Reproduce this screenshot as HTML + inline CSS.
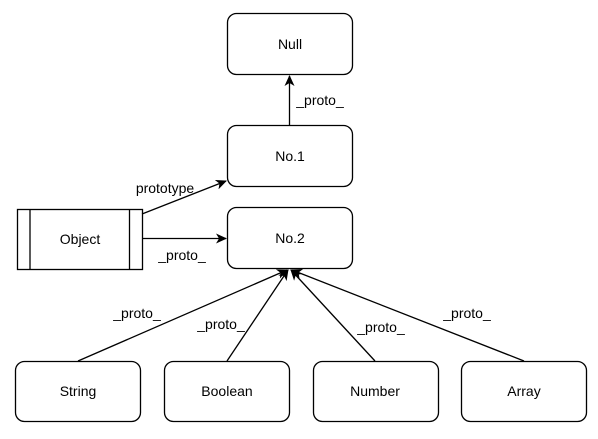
<!DOCTYPE html>
<html><head><style>
html,body{margin:0;padding:0;background:#fff;}
svg text{font-family:"Liberation Sans",Arial,sans-serif;font-size:14px;fill:#000;}
</style></head><body>
<svg width="598" height="434" viewBox="0 0 598 434" xmlns="http://www.w3.org/2000/svg">
<defs>
<marker id="a" markerWidth="12" markerHeight="10" refX="10" refY="5" orient="auto" markerUnits="userSpaceOnUse">
<path d="M0,0 L11,5 L0,10 L3,5 z" fill="#000"/>
</marker>
</defs>
<g fill="#fff" stroke="#000" stroke-width="1.3">
<rect x="227.5" y="13.5" width="125" height="61" rx="9"/>
<rect x="227.5" y="125.5" width="125" height="61" rx="9"/>
<rect x="227.5" y="207.5" width="125" height="61" rx="9"/>
<rect x="17.5" y="209.5" width="125" height="60"/>
<line x1="30" y1="209.5" x2="30" y2="269.5"/>
<line x1="129.5" y1="209.5" x2="129.5" y2="269.5"/>
<rect x="15.5" y="361.5" width="125" height="60" rx="9"/>
<rect x="164.5" y="361.5" width="125" height="60" rx="9"/>
<rect x="313.5" y="361.5" width="125" height="60" rx="9"/>
<rect x="461.5" y="361.5" width="125" height="60" rx="9"/>
</g>
<g stroke="#000" stroke-width="1.3" fill="none" marker-end="url(#a)">
<line x1="289.5" y1="125" x2="289.5" y2="76"/>
<line x1="142" y1="214" x2="226" y2="181"/>
<line x1="142" y1="238.5" x2="226" y2="238.5"/>
<line x1="78" y1="361" x2="287" y2="270"/>
<line x1="227" y1="361" x2="288" y2="270"/>
<line x1="375" y1="361" x2="291" y2="270"/>
<line x1="524" y1="361" x2="292" y2="270"/>
</g>
<g text-anchor="middle">
<text x="290" y="49">Null</text>
<text x="290" y="161">No.1</text>
<text x="290" y="243">No.2</text>
<text x="80" y="244">Object</text>
<text x="78" y="396">String</text>
<text x="227" y="396">Boolean</text>
<text x="375" y="396">Number</text>
<text x="524" y="396">Array</text>
<text x="320" y="105">_proto_</text>
<text x="165" y="193">prototype</text>
<text x="182" y="260">_proto_</text>
<text x="137" y="318">_proto_</text>
<text x="221" y="329">_proto_</text>
<text x="381" y="332">_proto_</text>
<text x="467" y="318">_proto_</text>
</g>
</svg>
</body></html>
